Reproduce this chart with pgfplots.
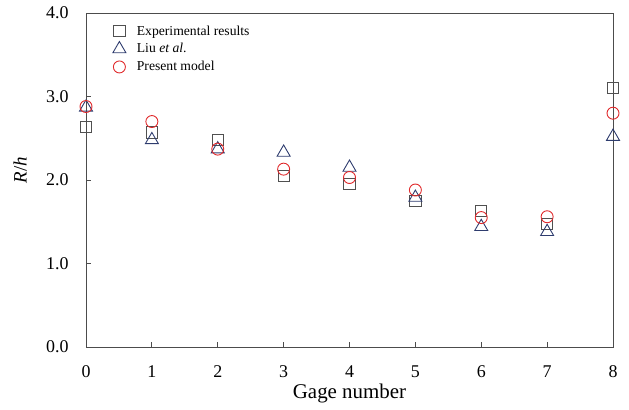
\documentclass[border=0pt]{standalone}
\usepackage{fontspec}
\setmainfont{Liberation Serif}
\usepackage{pgfplots}
\pgfplotsset{compat=1.18}
\definecolor{expc}{HTML}{505050}
\definecolor{liuc}{HTML}{2E3C6E}
\definecolor{prc}{HTML}{E0282A}
\begin{document}
\begin{tikzpicture}
\begin{axis}[
  scale only axis,
  width=527bp, height=334bp,
  xmin=0, xmax=8, ymin=0, ymax=4,
  xtick={0,1,...,8},
  ytick={0,1,2,3,4},
  tick align=inside,
  xtick pos=bottom, ytick pos=left,
  major tick length=5bp,
  axis line style={color=black!70, line width=1pt},
  tick style={color=black!70, line width=0.8pt},
  /pgf/number format/assume math mode=true,
  yticklabel={\pgfmathprintnumber[fixed,fixed zerofill,precision=1]{\tick}},
  ticklabel style={font=\fontsize{18}{21}\selectfont},
  xticklabel style={yshift=-15bp},
  yticklabel style={xshift=-14bp},
  xlabel={Gage number},
  ylabel={\textit{R}/\textit{h}},
  xlabel style={font=\fontsize{21}{24}\selectfont, at={(rel axis cs:0.5,0)}, anchor=north, yshift=-33bp},
  ylabel style={font=\fontsize{19}{22}\selectfont, at={(rel axis cs:-0.125,0.53)}, anchor=center},
  clip=false,
  legend style={at={(0.045,0.975)}, anchor=north west, draw=none, fill=none,
    font=\fontsize{13.7}{16}\selectfont, row sep=3bp},
  legend cell align=left,
]
\coordinate (bl) at (rel axis cs:0,0);
\coordinate (tr) at (rel axis cs:1,1);
\addplot[only marks, mark=square, mark size=5.6bp, color=expc, mark options={line width=0.9pt}]
 coordinates {(0,2.64) (1,2.57) (2,2.48) (3,2.05) (4,1.95) (5,1.75) (6,1.63) (7,1.47) (8,3.10)};
\addlegendentry{\hspace{9bp}Experimental results}
\addplot[only marks, mark=triangle, mark size=7.5bp, color=liuc, mark options={line width=0.9pt}]
 coordinates {(0,2.87) (1,2.48) (2,2.37) (3,2.33) (4,2.15) (5,1.79) (6,1.44) (7,1.38) (8,2.52)};
\addlegendentry{\hspace{9bp}Liu \textit{et al}.}
\addplot[only marks, mark=o, mark size=6bp, color=prc, mark options={line width=0.9pt}]
 coordinates {(0,2.88) (1,2.70) (2,2.37) (3,2.13) (4,2.03) (5,1.88) (6,1.55) (7,1.56) (8,2.80)};
\addlegendentry{\hspace{9bp}Present model}
\end{axis}
\pgfresetboundingbox
\path ([xshift=-86bp,yshift=-62bp]bl) rectangle ([xshift=16bp,yshift=13bp]tr);
\end{tikzpicture}
\end{document}
